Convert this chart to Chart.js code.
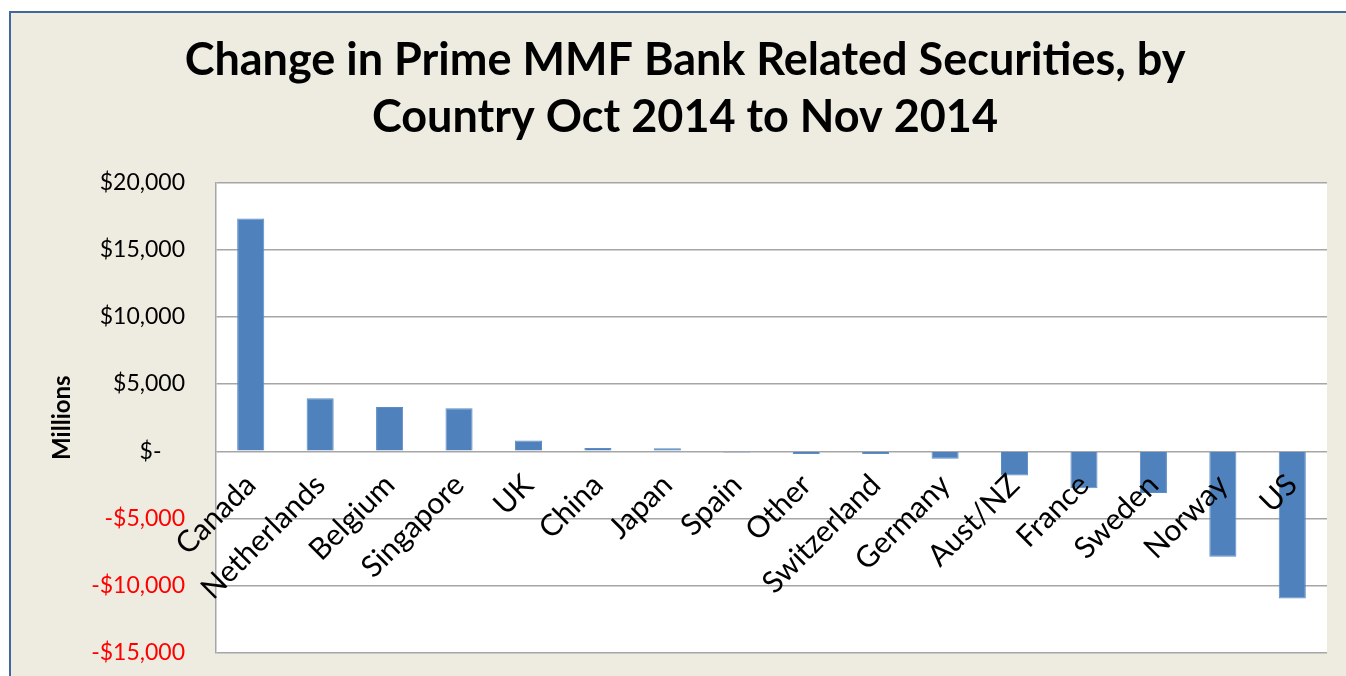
<!DOCTYPE html>
<html>
<head>
<meta charset="utf-8">
<script src="https://cdn.jsdelivr.net/npm/chart.js@4/dist/chart.umd.min.js"></script>
<style>
body{margin:0;background:#fff;overflow:hidden;}
#frame{position:absolute;left:9px;top:11px;width:1400px;height:700px;border:2px solid #41679b;background:#eeece1;}
#c{position:absolute;left:0;top:0;}
</style>
</head>
<body>
<div id="frame"></div>
<canvas id="c" width="1346" height="676"></canvas>
<script>
// data (millions of $)
const countries = ["Canada","Netherlands","Belgium","Singapore","UK","China","Japan","Spain","Other","Switzerland","Germany","Aust/NZ","France","Sweden","Norway","US"];
const changes = [17300, 3950, 3300, 3200, 800, 250, 230, -100, -200, -200, -550, -1800, -2750, -3100, -7850, -10950];
const titleLines = ["Change in Prime MMF Bank Related Securities, by", "Country Oct 2014 to Nov 2014"];
const yMin = -15000, yMax = 20000, yStep = 5000;

function money(v){
    if(v==0)return "$-    ";
    const s="$"+Math.abs(v).toLocaleString("en-US");
    return v<0 ? "-"+s : s;
}

// white plot area like the excel chart
const plotBg = {
    id: "plotBg",
    beforeDraw(chart){
        const a=chart.chartArea, ctx=chart.ctx;
        ctx.save();
        ctx.fillStyle="#fff";
        ctx.fillRect(a.left,a.top,a.right-a.left,a.bottom-a.top);
        ctx.restore();
    }
};

const ctx = document.getElementById("c").getContext("2d");
new Chart(ctx, {
    type: "bar",
    data: {
        labels: countries,
        datasets: [{
            data: changes,
            backgroundColor: "#4f81bd",
            borderColor: "#5b8cc6",
            borderWidth: 1,
            barPercentage: 0.39,
            categoryPercentage: 1
        }]
    },
    options: {
        responsive: false,
        animation: false,
        layout: {padding: {left: 43, right: 19, bottom: 23, top: 0}},
        plugins: {
            legend: {display: false},
            tooltip: {enabled: false},
            title: {
                display: true,
                text: titleLines,
                color: "#000",
                font: {family: "Lato", size: 45, weight: "bold", lineHeight: 1.27},
                padding: {top: 32, bottom: 36}
            }
        },
        scales: {
            x: {
                position: {y: 0},
                grid: {display: false, drawTicks: false},
                border: {display: false},
                ticks: {
                    z: 1, // labels over the bars
                    autoSkip: false,
                    minRotation: 45,
                    maxRotation: 45,
                    padding: 16,
                    color: "#000",
                    font: {family: "Lato", size: 30}
                }
            },
            y: {
                min: yMin,
                max: yMax,
                afterFit(scale){ scale.width = 216 - 43; },
                // invisible tick marks push the labels away from the plot
                grid: {color: "#a6a6a6", lineWidth: 1.5, drawTicks: true, tickLength: 28, tickColor: "rgba(0,0,0,0)"},
                border: {display: true, color: "#a6a6a6", width: 1.5},
                ticks: {
                    stepSize: yStep,
                    padding: 3,
                    callback: v => money(v),
                    color: c => c.tick.value < 0 ? "#ff0000" : "#000",
                    font: {family: "Lato", size: 23}
                },
                title: {
                    display: true,
                    text: "Millions",
                    color: "#000",
                    font: {family: "Lato", size: 24, weight: "bold"},
                    padding: {top: 5, bottom: 0}
                }
            }
        }
    },
    plugins: [plotBg]
});
</script>
</body>
</html>
